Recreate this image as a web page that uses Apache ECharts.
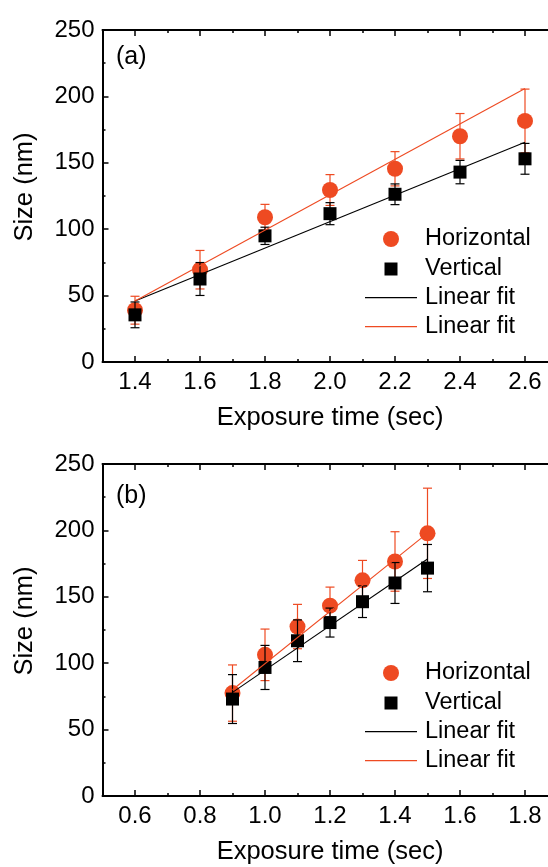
<!DOCTYPE html>
<html><head><meta charset="utf-8">
<script src="https://cdn.jsdelivr.net/npm/echarts@6/dist/echarts.min.js"></script>
<style>html,body{margin:0;padding:0;background:#fff}#c{width:548px;height:867px}</style>
</head><body><div id="c"></div>
<script>
// ---- data (panel a) ----
const xA = [1.4, 1.6, 1.8, 2.0, 2.2, 2.4, 2.6];
const hA = [39, 69.5, 109, 129.5, 145.5, 170, 181.5];
const hErrA = [10.5, 14.5, 9.7, 11.6, 12.9, 17.1, 24];
const vA = [35.5, 62.5, 95, 111.7, 126.3, 143, 153];
const vErrA = [9.7, 12.4, 6.5, 8.3, 7.8, 8.8, 11.6];
const fitHA = [[1.4, 46], [2.6, 206]];
const fitVA = [[1.4, 46], [2.6, 165.5]];
// ---- data (panel b) ----
const xB = [0.9, 1.0, 1.1, 1.2, 1.3, 1.4, 1.5];
const hB = [77.5, 106.3, 127.6, 143.3, 162.4, 176.6, 197.8];
const hErrB = [21.2, 19.4, 16.7, 14, 15, 22.4, 34];
const vB = [73, 96.8, 116.9, 130.6, 146.3, 160.4, 171.6];
const vErrB = [18.4, 16.6, 15.7, 10.9, 11.9, 15.4, 17.8];
const fitHB = [[0.9, 80], [1.5, 198]];
const fitVB = [[0.9, 78], [1.5, 178.5]];
// ---- ticks ----
const majorA = [1.4, 1.6, 1.8, 2.0, 2.2, 2.4, 2.6];
const minorA = [1.5, 1.7, 1.9, 2.1, 2.3, 2.5];
const majorB = [0.6, 0.8, 1.0, 1.2, 1.4, 1.6, 1.8];
const minorB = [0.7, 0.9, 1.1, 1.3, 1.5, 1.7];
const panelLabels = ['(a)', '(b)'];
const xTitle = 'Exposure time (sec)';
const yTitle = 'Size (nm)';

const RED = '#EE4A22';
const FF = '"Liberation Sans", Arial, sans-serif';
const chart = echarts.init(document.getElementById('c'), null, {renderer: 'canvas'});

const panels = [
  {top: 30, min: 1.3, max: 2.7, major: majorA, minor: minorA, x: xA, h: hA, he: hErrA, v: vA, ve: vErrA, fh: fitHA, fv: fitVA, labelY: 59},
  {top: 464, min: 0.5, max: 1.9, major: majorB, minor: minorB, x: xB, h: hB, he: hErrB, v: vB, ve: vErrB, fh: fitHB, fv: fitVB, labelY: 498}
];
const grids = [], xAxes = [], yAxes = [], series = [], legends = [], graphics = [];

function errRender(color) {
  return function (params, api) {
    const x = api.value(0), y = api.value(1), e = api.value(2);
    const t = api.coord([x, y + e]), b = api.coord([x, y - e]);
    const w = 4.5;
    const st = {stroke: color, lineWidth: 1.2};
    return {type: 'group', children: [
      {type: 'line', shape: {x1: t[0], y1: t[1], x2: b[0], y2: b[1]}, style: st},
      {type: 'line', shape: {x1: t[0] - w, y1: t[1], x2: t[0] + w, y2: t[1]}, style: st},
      {type: 'line', shape: {x1: b[0] - w, y1: b[1], x2: b[0] + w, y2: b[1]}, style: st}
    ]};
  };
}
// textX: where the legend text should start
function leg(name, icon, w, h, left, top, textX) {
  return {data: [{name: name, icon: icon}], left: left, top: top, itemWidth: w, itemHeight: h, padding: 0,
    selectedMode: false, symbolKeepAspect: false,
    formatter: n => n.indexOf('fit') === 0 ? 'Linear fit' : n,
    textStyle: {fontSize: 23.5, fontFamily: FF, color: '#000', lineHeight: 24,
      padding: [0, 0, 0, textX - (left + w + 5)]}};
}

panels.forEach((p, gi) => {
  grids.push({left: 102.5, top: p.top, width: 455, height: 332, outerBoundsMode: 'none', containLabel: false});
  const base = {type: 'value', gridIndex: gi, min: p.min, max: p.max, splitLine: {show: false}};
  const xi = xAxes.length;
  // bottom major
  xAxes.push(Object.assign({}, base, {position: 'bottom',
    axisLine: {show: true, lineStyle: {color: '#000', width: 2}},
    axisTick: {show: true, inside: true, length: 6, lineStyle: {color: '#000', width: 1.5}, customValues: p.major},
    axisLabel: {show: true, customValues: p.major, margin: 8, fontSize: 24, fontFamily: FF, color: '#000', formatter: v => v.toFixed(1)},
    name: xTitle, nameLocation: 'middle', nameGap: 43, nameTextStyle: {fontSize: 25.5, fontFamily: FF, color: '#000'}}));
  // bottom minor
  xAxes.push(Object.assign({}, base, {position: 'bottom',
    axisLine: {show: false},
    axisTick: {show: true, inside: true, length: 3, lineStyle: {color: '#000', width: 1.5}, customValues: p.minor},
    axisLabel: {show: false}}));
  // top major
  xAxes.push(Object.assign({}, base, {position: 'top',
    axisLine: {show: true, lineStyle: {color: '#000', width: 2}},
    axisTick: {show: true, inside: true, length: 6, lineStyle: {color: '#000', width: 1.5}, customValues: p.major},
    axisLabel: {show: false}}));
  // top minor
  xAxes.push(Object.assign({}, base, {position: 'top',
    axisLine: {show: false},
    axisTick: {show: true, inside: true, length: 3, lineStyle: {color: '#000', width: 1.5}, customValues: p.minor},
    axisLabel: {show: false}}));
  yAxes.push({type: 'value', gridIndex: gi, min: 0, max: 250, interval: 50, position: 'left',
    splitLine: {show: false},
    axisLine: {show: true, lineStyle: {color: '#000', width: 2}},
    axisTick: {show: true, inside: true, length: 6, lineStyle: {color: '#000', width: 1.5}},
    minorTick: {show: true, splitNumber: 2, length: 3, lineStyle: {color: '#000', width: 1.5}},
    axisLabel: {margin: 8, fontSize: 24, fontFamily: FF, color: '#000'}});

  series.push({type: 'custom', xAxisIndex: xi, yAxisIndex: gi, renderItem: errRender(RED),
    encode: {x: 0, y: 1}, data: p.x.map((x, i) => [x, p.h[i], p.he[i]]), z: 1, silent: true});
  series.push({type: 'scatter', name: 'Horizontal', xAxisIndex: xi, yAxisIndex: gi, symbol: 'circle', symbolSize: 16,
    itemStyle: {color: RED, opacity: 1}, data: p.x.map((x, i) => [x, p.h[i]]), z: 2});
  series.push({type: 'custom', xAxisIndex: xi, yAxisIndex: gi, renderItem: errRender('#000'),
    encode: {x: 0, y: 1}, data: p.x.map((x, i) => [x, p.v[i], p.ve[i]]), z: 3, silent: true});
  series.push({type: 'scatter', name: 'Vertical', xAxisIndex: xi, yAxisIndex: gi, symbol: 'rect', symbolSize: 13,
    itemStyle: {color: '#000', opacity: 1}, data: p.x.map((x, i) => [x, p.v[i]]), z: 4});
  series.push({type: 'line', name: 'fitV', xAxisIndex: xi, yAxisIndex: gi, symbol: 'none',
    lineStyle: {color: '#000', width: 1.1}, itemStyle: {color: '#000'}, data: p.fv, z: 5});
  series.push({type: 'line', name: 'fitH', xAxisIndex: xi, yAxisIndex: gi, symbol: 'none',
    lineStyle: {color: RED, width: 1.1}, itemStyle: {color: RED}, data: p.fh, z: 5});

  const off = p.top - 30;
  legends.push(leg('Horizontal', 'circle', 16, 16, 383, 227 + off, 425));
  legends.push(leg('Vertical', 'rect', 13, 13, 384.5, 257 + off, 425));
  legends.push(leg('fitV', 'rect', 52, 1.3, 365, 285.7 + off, 425));
  legends.push(leg('fitH', 'rect', 52, 1.3, 365, 314.7 + off, 425));

  graphics.push({type: 'text', left: 116, top: p.labelY - 14,
    style: {text: panelLabels[gi], fontSize: 25, fontFamily: FF, fill: '#000'}});
  graphics.push({type: 'text', x: 25, y: 187 + off, rotation: Math.PI / 2,
    style: {text: yTitle, fontSize: 25.5, fontFamily: FF, fill: '#000', align: 'center', verticalAlign: 'middle'}});
});

chart.setOption({
  animation: false,
  backgroundColor: '#fff',
  grid: grids, xAxis: xAxes, yAxis: yAxes, series: series, legend: legends, graphic: graphics
});
</script></body></html>
